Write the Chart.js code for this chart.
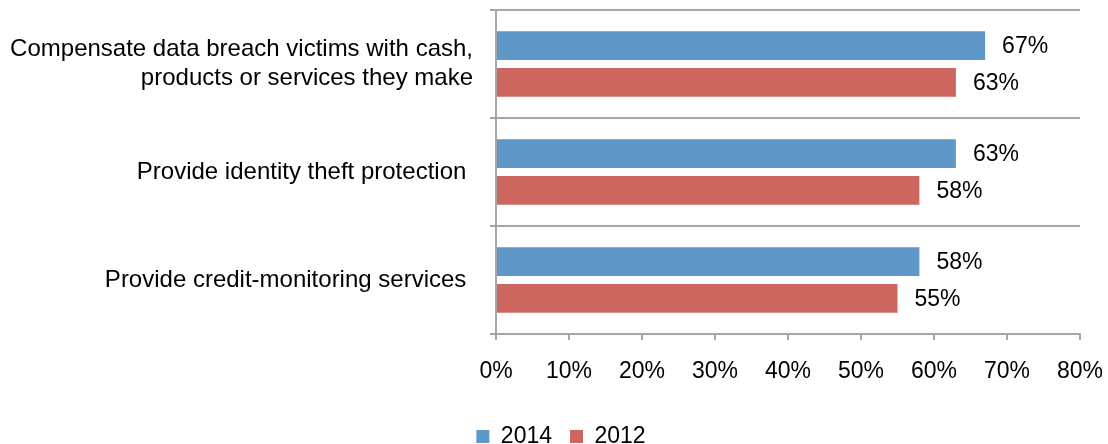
<!DOCTYPE html>
<html lang="en">
<head>
  <meta charset="UTF-8">
  <title>Breach response expectations</title>
  <script src="https://cdn.jsdelivr.net/npm/chart.js"></script>
  <style>
    html, body { margin: 0; padding: 0; background: #fff; }
    #wrap { width: 1108px; height: 444px; position: relative; }
  </style>
</head>
<body>
  <div id="wrap"><canvas id="chart"></canvas></div>

  <script>
    const categories = [
      ["Compensate data breach victims with cash,", "products or services they make"],
      "Provide identity theft protection ",
      "Provide credit-monitoring services "
    ];
    const seriesNames = ["2014", "2012"];
    const values2014 = [67, 63, 58];
    const values2012 = [63, 58, 55];
    const tickValues = [0, 10, 20, 30, 40, 50, 60, 70, 80];

    const FONT = "'Liberation Sans', Arial, sans-serif";
    const GRID = "#a6a6a6";

    // writes the percentage just past the end of each bar
    const valueLabels = {
      id: "valueLabels",
      afterDatasetsDraw(chart) {
        const ctx = chart.ctx;
        ctx.save();
        ctx.font = "23px " + FONT;
        ctx.fillStyle = "#000";
        ctx.textAlign = "left";
        ctx.textBaseline = "middle";
        chart.data.datasets.forEach((ds, i) => {
          chart.getDatasetMeta(i).data.forEach((bar, j) => {
            ctx.fillText(ds.data[j] + "%", bar.x + 17, bar.y + 1);
          });
        });
        ctx.restore();
      }
    };

    // centre the legend under the whole figure instead of the padded box
    const legendShift = {
      id: "legendShift",
      afterLayout(chart) {
        const lg = chart.legend;
        if (lg) { lg.left += 21; lg.right += 21; }
      }
    };

    new Chart(document.getElementById("chart"), {
      type: "bar",
      data: {
        labels: categories,
        datasets: [
          { label: seriesNames[0], data: values2014, backgroundColor: "#6097c9" },
          { label: seriesNames[1], data: values2012, backgroundColor: "#cc665f" }
        ]
      },
      options: {
        indexAxis: "y",
        responsive: true,
        maintainAspectRatio: false,
        animation: false,
        categoryPercentage: 0.68,
        barPercentage: 0.78,
        layout: { padding: { top: 10, right: 28, left: 0, bottom: -14 } },
        scales: {
          x: {
            min: 0,
            max: 80,
            afterBuildTicks(scale) {
              scale.ticks = tickValues.map(v => ({ value: v }));
            },
            afterFit(scale) {
              // keep the plot edges fixed; the outer labels may run past them
              scale.paddingLeft = 0;
              scale.paddingRight = 0;
              scale.height = 73;
            },
            grid: { drawOnChartArea: false, color: GRID, lineWidth: 2, tickLength: 6 },
            border: { color: GRID, width: 2 },
            ticks: {
              color: "#000",
              padding: 18,
              maxRotation: 0,
              font: { family: FONT, size: 23 },
              callback: v => v + "%"
            }
          },
          y: {
            afterFit(scale) {
              scale.width = 496;
              scale.paddingTop = 0;
              scale.paddingBottom = 0;
            },
            grid: { color: GRID, lineWidth: 2, tickLength: 6, offset: true },
            border: { color: GRID, width: 2 },
            ticks: {
              color: "#000",
              padding: 17,
              font: { family: FONT, size: 24, lineHeight: 1.2 }
            }
          }
        },
        plugins: {
          legend: {
            position: "bottom",
            labels: {
              color: "#000",
              boxWidth: 13,
              boxHeight: 13,
              padding: 18,
              font: { family: FONT, size: 23 }
            }
          },
          tooltip: { enabled: false }
        }
      },
      plugins: [valueLabels, legendShift]
    });
  </script>
</body>
</html>
